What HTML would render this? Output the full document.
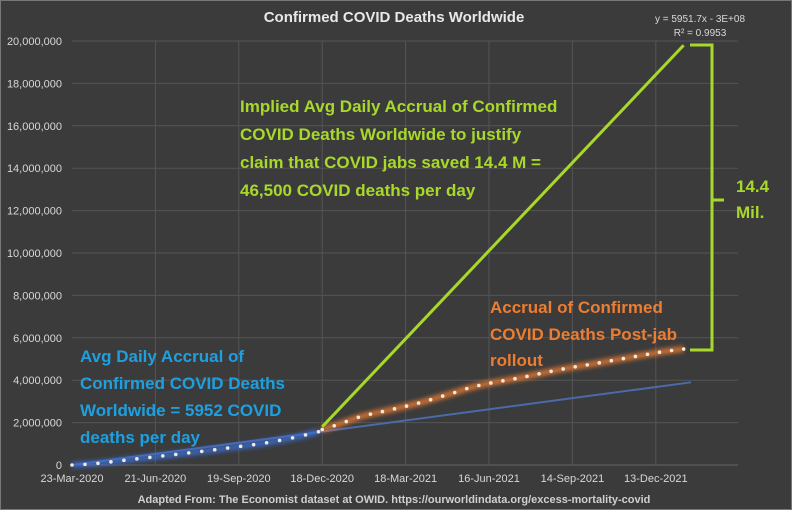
<!DOCTYPE html>
<html><head><meta charset="utf-8"><style>
html,body{margin:0;padding:0;background:#3b3b3b;}
svg{display:block;font-family:"Liberation Sans",sans-serif;}
</style></head><body>
<svg id="chart" width="792" height="510" viewBox="0 0 792 510">
<defs><filter id="glow" x="-20%" y="-20%" width="140%" height="140%"><feGaussianBlur stdDeviation="2.2"/></filter></defs>
<rect x="0" y="0" width="792" height="510" fill="#3b3b3b" stroke="#777" stroke-width="2"/>
<text x="394" y="22" text-anchor="middle" font-size="15" font-weight="bold" fill="#e8e8e8">Confirmed COVID Deaths Worldwide</text>
<g id="grid"></g><g id="axes"></g><g id="series"></g>
<text x="700" y="22" text-anchor="middle" font-size="10" fill="#d8d8d8">y = 5951.7x - 3E+08</text>
<text x="700" y="36" text-anchor="middle" font-size="10" fill="#d8d8d8">R² = 0.9953</text>
<g font-weight="bold" font-size="17" fill="#a8d82a">
<text x="240" y="112">Implied Avg Daily Accrual of Confirmed</text>
<text x="240" y="140">COVID Deaths Worldwide to justify</text>
<text x="240" y="168">claim that COVID jabs saved 14.4 M =</text>
<text x="240" y="196">46,500 COVID deaths per day</text></g>
<g font-weight="bold" font-size="17" fill="#ed7d31">
<text x="490" y="313">Accrual of Confirmed</text>
<text x="490" y="340">COVID Deaths Post-jab</text>
<text x="490" y="366">rollout</text></g>
<g font-weight="bold" font-size="17" fill="#1ea0e0">
<text x="80" y="362">Avg Daily Accrual of</text>
<text x="80" y="389">Confirmed COVID Deaths</text>
<text x="80" y="416">Worldwide = 5952 COVID</text>
<text x="80" y="443">deaths per day</text></g>
<g stroke="#a8d82a" stroke-width="3" fill="none">
<polyline points="690,45 712,45 712,350 690,350"/><line x1="712" y1="200" x2="724" y2="200"/></g>
<g font-weight="bold" font-size="17" fill="#a8d82a">
<text x="736" y="192">14.4</text><text x="736" y="218">Mil.</text></g>
<text x="394" y="503" text-anchor="middle" font-size="11" font-weight="bold" fill="#cfcfcf">Adapted From: The Economist dataset at OWID. https://ourworldindata.org/excess-mortality-covid</text>
</svg>
<script>
const yTicks=[0,2e6,4e6,6e6,8e6,10e6,12e6,14e6,16e6,18e6,20e6];
const xTickDays=[0,90,180,270,360,450,540,630];
const xTickLabels=["23-Mar-2020","21-Jun-2020","19-Sep-2020","18-Dec-2020","18-Mar-2021","16-Jun-2021","14-Sep-2021","13-Dec-2021"];
const blueStep=14;
const blueValues=[0,0.03,0.08,0.15,0.22,0.29,0.36,0.43,0.50,0.57,0.64,0.72,0.80,0.88,0.96,1.05,1.16,1.28,1.42,1.57];
const orangeStart=270, orangeStep=13;
const orangeValues=[1.67,1.85,2.05,2.25,2.40,2.52,2.65,2.78,2.92,3.08,3.25,3.42,3.60,3.75,3.87,3.97,4.07,4.18,4.30,4.42,4.53,4.63,4.72,4.82,4.92,5.02,5.12,5.22,5.32,5.40,5.47];
const impliedLine=[[270,1.8],[660,19.8]];
const trendLine=[[0,0],[668,3.9]];
const NS="http://www.w3.org/2000/svg";
const X=d=>72+d*0.9267, Y=v=>465-v/20e6*424;
const Ym=m=>Y(m*1e6);
function mk(t,a,p){const e=document.createElementNS(NS,t);for(const k in a)e.setAttribute(k,a[k]);p.appendChild(e);return e;}
const grid=document.getElementById('grid'),axes=document.getElementById('axes'),ser=document.getElementById('series');
yTicks.forEach(v=>{
 const l=mk('line',{x1:72,x2:738,y1:Y(v),y2:Y(v),stroke:v?'#555':'#666','stroke-width':1},grid);
 
 
 const t=mk('text',{x:62,y:Y(v)+4,'text-anchor':'end','font-size':11,fill:'#d8d8d8'},axes);
 t.textContent=v.toLocaleString('en-US');
 
 
});
xTickDays.forEach((d,i)=>{
 if(i>0){const l=mk('line',{x1:X(d),x2:X(d),y1:41,y2:465,stroke:'#555','stroke-width':1},grid);
 
 }
 const t=mk('text',{x:X(d),y:482,'text-anchor':'middle','font-size':11,fill:'#d8d8d8'},axes);
 t.textContent=xTickLabels[i];
 
 
});
const tl=mk('line',{x1:X(trendLine[0][0]),y1:Ym(trendLine[0][1]),x2:X(trendLine[1][0]),y2:Ym(trendLine[1][1]),stroke:'#4a6aa8','stroke-width':2},ser);


function dots(vals,start,step,col,name){
 const pts=vals.map((v,i)=>[X(start+i*step),Ym(v)]);
 const g=mk('polyline',{points:pts.map(p=>p.join(',')).join(' '),fill:'none',stroke:col,'stroke-width':6,opacity:0.8,filter:'url(#glow)'},ser);
 
 
 pts.forEach(p=>{const c=mk('circle',{cx:p[0],cy:p[1],r:1.8,fill:'#f4e8dc'},ser);
 
 });
}
dots(blueValues,0,blueStep,'#3a6fd8','pre-jab-series');
dots(orangeValues,orangeStart,orangeStep,'#ed7d31','post-jab-series');
const il=mk('line',{x1:X(impliedLine[0][0]),y1:Ym(impliedLine[0][1]),x2:X(impliedLine[1][0]),y2:Ym(impliedLine[1][1]),stroke:'#a8d82a','stroke-width':3},ser);


</script>
</body></html>
